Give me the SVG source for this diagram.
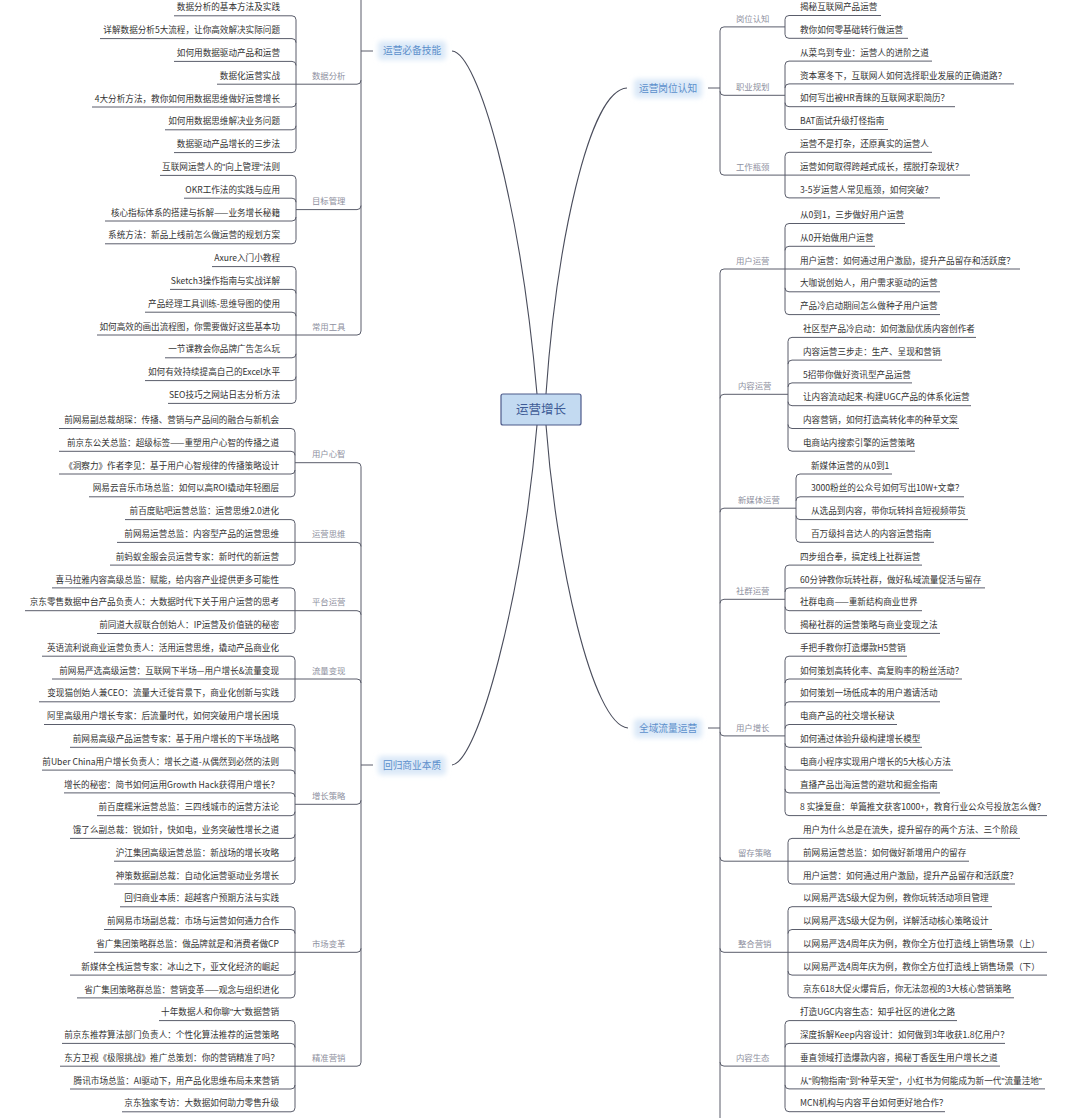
<svg xmlns="http://www.w3.org/2000/svg" width="1080" height="1118" viewBox="0 0 1080 1118">
<defs>
<filter id="glow" x="-20%" y="-50%" width="140%" height="200%"><feGaussianBlur stdDeviation="2.5"/></filter>
</defs>
<style>
text{font-family:"Noto Sans CJK SC","Noto Sans",sans-serif}
.q{font-family:"Liberation Sans",sans-serif}
.l{font-size:8.6px;fill:#333}
.le{text-anchor:end}
.s{font-size:8.4px;fill:#8e90a0}
.m{font-size:9.7px;fill:#5b8fcb}
.mg{fill:#dbe9f8;filter:url(#glow)}
.c{fill:none;stroke:#5a5d6b;stroke-width:1}
.cc{fill:none;stroke:#4a4d5c;stroke-width:1.1}
</style>
<rect width="1080" height="1118" fill="#fff"/>
<g id="connectors">
<path class="cc" d="M452 51C478 53 520 200 537 394"/>
<path class="cc" d="M627 88C588 90 556 250 546 394"/>
<path class="cc" d="M628 728C592 725 556 560 546 425"/>
<path class="cc" d="M452 765C478 762 522 600 537 425"/>
<path class="c" d="M361 0V331M361 51H373M361 466.7V1062.2M361 765H373M720 30.9V171.1M708 88H720M720 273V1118M708 728H720"/>
<path class="c" d="M174 15.8H292Q296 15.8 296 19.8M100 38.6H292Q296 38.6 296 42.6M174 61.4H292Q296 61.4 296 65.4M217 84.2H357Q361 84.2 361 80.2M92 107H292Q296 107 296 103M165 129.8H292Q296 129.8 296 125.8M174 152.6H292Q296 152.6 296 148.6M296 19.8V148.6"/>
<path class="c" d="M160 175.4H292Q296 175.4 296 179.4M184 198.2H292Q296 198.2 296 202.2M105 221H292Q296 221 296 217M105 243.8H292Q296 243.8 296 239.8M296 179.4V239.8M296 209.6H357Q361 209.6 361 205.6"/>
<path class="c" d="M212 266.6H292Q296 266.6 296 270.6M170 289.4H292Q296 289.4 296 293.4M145 312.2H292Q296 312.2 296 316.2M97 335H357Q361 335 361 331M165 357.8H292Q296 357.8 296 353.8M145 380.6H292Q296 380.6 296 376.6M168 403.4H292Q296 403.4 296 399.4M296 270.6V399.4"/>
<path class="c" d="M59 428.5H291Q295 428.5 295 432.5M59 451.3H291Q295 451.3 295 455.3M59 474H291Q295 474 295 470M89 496.8H291Q295 496.8 295 492.8M295 432.5V492.8M295 462.7H357Q361 462.7 361 466.7"/>
<path class="c" d="M125 519.6H291Q295 519.6 295 523.6M117 542.4H357Q361 542.4 361 546.4M110 565.1H291Q295 565.1 295 561.1M295 523.6V561.1"/>
<path class="c" d="M52 587.9H291Q295 587.9 295 591.9M25 610.7H357Q361 610.7 361 614.7M97 633.5H291Q295 633.5 295 629.5M295 591.9V629.5"/>
<path class="c" d="M42 656.2H291Q295 656.2 295 660.2M52 679H357Q361 679 361 683M39 701.8H291Q295 701.8 295 697.8M295 660.2V697.8"/>
<path class="c" d="M44 724.5H291Q295 724.5 295 728.5M70 747.3H291Q295 747.3 295 751.3M42 770.1H291Q295 770.1 295 774.1M64 792.9H291Q295 792.9 295 796.9M97 815.7H291Q295 815.7 295 811.7M70 838.4H291Q295 838.4 295 834.4M114 861.2H291Q295 861.2 295 857.2M114 884H291Q295 884 295 880M295 728.5V880M295 804.3H357Q361 804.3 361 800.3"/>
<path class="c" d="M120 906.8H291Q295 906.8 295 910.8M104 929.5H291Q295 929.5 295 933.5M94 952.3H357Q361 952.3 361 948.3M70 975.1H291Q295 975.1 295 971.1M77 997.9H291Q295 997.9 295 993.9M295 910.8V993.9"/>
<path class="c" d="M159 1020.6H291Q295 1020.6 295 1024.6M62 1043.4H291Q295 1043.4 295 1047.4M60 1066.2H357Q361 1066.2 361 1062.2M70 1089H291Q295 1089 295 1085M122 1111.8H291Q295 1111.8 295 1107.8M295 1024.6V1107.8"/>
<path class="c" d="M881 15.5H789Q785 15.5 785 19.5M908 38.3H789Q785 38.3 785 34.3M785 19.5V34.3M785 26.9H724Q720 26.9 720 30.9"/>
<path class="c" d="M932 61.1H789Q785 61.1 785 65.1M1014 83.9H789Q785 83.9 785 87.9M955 106.7H789Q785 106.7 785 102.7M888 129.5H789Q785 129.5 785 125.5M785 65.1V125.5M785 95.3H724Q720 95.3 720 91.3"/>
<path class="c" d="M932 152.3H789Q785 152.3 785 156.3M970 175.1H724Q720 175.1 720 171.1M940 197.9H789Q785 197.9 785 193.9M785 156.3V193.9"/>
<path class="c" d="M905 223.5H789Q785 223.5 785 227.5M875 246.3H789Q785 246.3 785 250.3M1020 269H724Q720 269 720 273M940 291.8H789Q785 291.8 785 287.8M940 314.6H789Q785 314.6 785 310.6M785 227.5V310.6"/>
<path class="c" d="M976 337.4H792Q788 337.4 788 341.4M942 360.1H792Q788 360.1 788 364.1M912 382.9H792Q788 382.9 788 386.9M971 405.7H792Q788 405.7 788 401.7M959 428.5H792Q788 428.5 788 424.5M915 451.2H792Q788 451.2 788 447.2M788 341.4V447.2M788 394.3H724Q720 394.3 720 398.3"/>
<path class="c" d="M892 474H800Q796 474 796 478M964 496.8H800Q796 496.8 796 500.8M968 519.6H800Q796 519.6 796 515.6M934 542.3H800Q796 542.3 796 538.3M796 478V538.3M796 508.2H724Q720 508.2 720 512.2"/>
<path class="c" d="M922 565.1H789Q785 565.1 785 569.1M985 587.9H789Q785 587.9 785 591.9M922 610.7H789Q785 610.7 785 606.7M940 633.4H789Q785 633.4 785 629.4M785 569.1V629.4M785 599.3H724Q720 599.3 720 603.3"/>
<path class="c" d="M907 656.2H789Q785 656.2 785 660.2M962 679H789Q785 679 785 683M940 701.8H789Q785 701.8 785 705.8M897 724.5H789Q785 724.5 785 728.5M922 747.3H789Q785 747.3 785 743.3M953 770.1H789Q785 770.1 785 766.1M940 792.9H789Q785 792.9 785 788.9M1047 815.6H789Q785 815.6 785 811.6M785 660.2V811.6M785 735.9H724Q720 735.9 720 731.9"/>
<path class="c" d="M1020 838.4H792Q788 838.4 788 842.4M969 861.2H724Q720 861.2 720 857.2M1015 884H792Q788 884 788 880M788 842.4V880"/>
<path class="c" d="M992 906.7H792Q788 906.7 788 910.7M992 929.5H792Q788 929.5 788 933.5M1047 952.3H724Q720 952.3 720 948.3M1047 975.1H792Q788 975.1 788 971.1M1014 997.8H792Q788 997.8 788 993.8M788 910.7V993.8"/>
<path class="c" d="M957 1020.6H789Q785 1020.6 785 1024.6M1005 1043.4H789Q785 1043.4 785 1047.4M1000 1066.1H724Q720 1066.1 720 1062.1M1045 1088.9H789Q785 1088.9 785 1084.9M945 1111.7H789Q785 1111.7 785 1107.7M785 1024.6V1107.7"/>
</g>
<g id="root"><rect x="501" y="394" width="80" height="31" rx="2" fill="#c3daf1" stroke="#4d5a8a" stroke-width="1.2"/><text x="541" y="414" text-anchor="middle" style="font-size:12.5px;fill:#3d5a96">运营增长</text></g>
<g id="m1"><rect class="mg" x="378" y="41" width="68" height="19" rx="4"/><text class="m" x="383" y="54">运营必备技能</text></g>
<g id="m2"><rect class="mg" x="634" y="79" width="68" height="19" rx="4"/><text class="m" x="639" y="91.5">运营岗位认知</text></g>
<g id="m3"><rect class="mg" x="634" y="719" width="68" height="19" rx="4"/><text class="m" x="639" y="731.5">全域流量运营</text></g>
<g id="m4"><rect class="mg" x="378" y="756" width="68" height="19" rx="4"/><text class="m" x="383" y="768.5">回归商业本质</text></g>
<g id="s1"><text class="s" x="312" y="78.9">数据分析</text></g>
<g id="s2"><text class="s" x="312" y="204.2">目标管理</text></g>
<g id="s3"><text class="s" x="312" y="329.6">常用工具</text></g>
<g id="s4"><text class="s" x="312" y="457.3">用户心智</text></g>
<g id="s5"><text class="s" x="312" y="537">运营思维</text></g>
<g id="s6"><text class="s" x="312" y="605.3">平台运营</text></g>
<g id="s7"><text class="s" x="312" y="673.6">流量变现</text></g>
<g id="s8"><text class="s" x="312" y="798.9">增长策略</text></g>
<g id="s9"><text class="s" x="312" y="946.9">市场变革</text></g>
<g id="s10"><text class="s" x="312" y="1060.8">精准营销</text></g>
<g id="s11"><text class="s" x="736" y="21.5">岗位认知</text></g>
<g id="s12"><text class="s" x="736" y="89.9">职业规划</text></g>
<g id="s13"><text class="s" x="736" y="169.7">工作瓶颈</text></g>
<g id="s14"><text class="s" x="736" y="263.6">用户运营</text></g>
<g id="s15"><text class="s" x="738" y="388.9">内容运营</text></g>
<g id="s16"><text class="s" x="738" y="502.8">新媒体运营</text></g>
<g id="s17"><text class="s" x="736" y="593.9">社群运营</text></g>
<g id="s18"><text class="s" x="736" y="730.5">用户增长</text></g>
<g id="s19"><text class="s" x="738" y="855.8">留存策略</text></g>
<g id="s20"><text class="s" x="738" y="946.9">整合营销</text></g>
<g id="s21"><text class="s" x="736" y="1060.7">内容生态</text></g>
<g id="a0"><text class="l le" x="280" y="10.4">数据分析的基本方法及实践</text></g>
<g id="a1"><text class="l le" x="280" y="33.2">详解数据分析5大流程，让你高效解决实际问题</text></g>
<g id="a2"><text class="l le" x="280" y="56">如何用数据驱动产品和运营</text></g>
<g id="a3"><text class="l le" x="280" y="78.8">数据化运营实战</text></g>
<g id="a4"><text class="l le" x="280" y="101.6">4大分析方法，教你如何用数据思维做好运营增长</text></g>
<g id="a5"><text class="l le" x="280" y="124.4">如何用数据思维解决业务问题</text></g>
<g id="a6"><text class="l le" x="280" y="147.2">数据驱动产品增长的三步法</text></g>
<g id="a7"><text class="l le" x="280" y="170">互联网运营人的<tspan class="q">"</tspan>向上管理<tspan class="q">"</tspan>法则</text></g>
<g id="a8"><text class="l le" x="280" y="192.8">OKR工作法的实践与应用</text></g>
<g id="a9"><text class="l le" x="280" y="215.6">核心指标体系的搭建与拆解——业务增长秘籍</text></g>
<g id="a10"><text class="l le" x="280" y="238.4">系统方法：新品上线前怎么做运营的规划方案</text></g>
<g id="a11"><text class="l le" x="280" y="261.2">Axure入门小教程</text></g>
<g id="a12"><text class="l le" x="280" y="284">Sketch3操作指南与实战详解</text></g>
<g id="a13"><text class="l le" x="280" y="306.8">产品经理工具训练-思维导图的使用</text></g>
<g id="a14"><text class="l le" x="280" y="329.6">如何高效的画出流程图，你需要做好这些基本功</text></g>
<g id="a15"><text class="l le" x="280" y="352.4">一节课教会你品牌广告怎么玩</text></g>
<g id="a16"><text class="l le" x="280" y="375.2">如何有效持续提高自己的Excel水平</text></g>
<g id="a17"><text class="l le" x="280" y="398">SEO技巧之网站日志分析方法</text></g>
<g id="b0"><text class="l le" x="279" y="423.1">前网易副总裁胡琛：传播、营销与产品间的融合与新机会</text></g>
<g id="b1"><text class="l le" x="279" y="445.9">前京东公关总监：超级标签——重塑用户心智的传播之道</text></g>
<g id="b2"><text class="l le" x="279" y="468.6">《洞察力》作者李见：基于用户心智规律的传播策略设计</text></g>
<g id="b3"><text class="l le" x="279" y="491.4">网易云音乐市场总监：如何以高ROI撬动年轻圈层</text></g>
<g id="b4"><text class="l le" x="279" y="514.2">前百度贴吧运营总监：运营思维2.0进化</text></g>
<g id="b5"><text class="l le" x="279" y="537">前网易运营总监：内容型产品的运营思维</text></g>
<g id="b6"><text class="l le" x="279" y="559.7">前蚂蚁金服会员运营专家：新时代的新运营</text></g>
<g id="b7"><text class="l le" x="279" y="582.5">喜马拉雅内容高级总监：赋能，给内容产业提供更多可能性</text></g>
<g id="b8"><text class="l le" x="279" y="605.3">京东零售数据中台产品负责人：大数据时代下关于用户运营的思考</text></g>
<g id="b9"><text class="l le" x="279" y="628.1">前同道大叔联合创始人：IP运营及价值链的秘密</text></g>
<g id="b10"><text class="l le" x="279" y="650.8">英语流利说商业运营负责人：活用运营思维，撬动产品商业化</text></g>
<g id="b11"><text class="l le" x="279" y="673.6">前网易严选高级运营：互联网下半场—用户增长&amp;流量变现</text></g>
<g id="b12"><text class="l le" x="279" y="696.4">变现猫创始人兼CEO：流量大迁徙背景下，商业化创新与实践</text></g>
<g id="b13"><text class="l le" x="279" y="719.1">阿里高级用户增长专家：后流量时代，如何突破用户增长困境</text></g>
<g id="b14"><text class="l le" x="279" y="741.9">前网易高级产品运营专家：基于用户增长的下半场战略</text></g>
<g id="b15"><text class="l le" x="279" y="764.7">前Uber China用户增长负责人：增长之道-从偶然到必然的法则</text></g>
<g id="b16"><text class="l le" x="279" y="787.5">增长的秘密：简书如何运用Growth Hack获得用户增长？</text></g>
<g id="b17"><text class="l le" x="279" y="810.3">前百度糯米运营总监：三四线城市的运营方法论</text></g>
<g id="b18"><text class="l le" x="279" y="833">饿了么副总裁：锐如针，快如电，业务突破性增长之道</text></g>
<g id="b19"><text class="l le" x="279" y="855.8">沪江集团高级运营总监：新战场的增长攻略</text></g>
<g id="b20"><text class="l le" x="279" y="878.6">神策数据副总裁：自动化运营驱动业务增长</text></g>
<g id="b21"><text class="l le" x="279" y="901.4">回归商业本质：超越客户预期方法与实践</text></g>
<g id="b22"><text class="l le" x="279" y="924.1">前网易市场副总裁：市场与运营如何通力合作</text></g>
<g id="b23"><text class="l le" x="279" y="946.9">省广集团策略群总监：做品牌就是和消费者做CP</text></g>
<g id="b24"><text class="l le" x="279" y="969.7">新媒体全栈运营专家：冰山之下，亚文化经济的崛起</text></g>
<g id="b25"><text class="l le" x="279" y="992.5">省广集团策略群总监：营销变革——观念与组织进化</text></g>
<g id="b26"><text class="l le" x="279" y="1015.2">十年数据人和你聊<tspan class="q">"</tspan>大<tspan class="q">"</tspan>数据营销</text></g>
<g id="b27"><text class="l le" x="279" y="1038">前京东推荐算法部门负责人：个性化算法推荐的运营策略</text></g>
<g id="b28"><text class="l le" x="279" y="1060.8">东方卫视《极限挑战》推广总策划：你的营销精准了吗？</text></g>
<g id="b29"><text class="l le" x="279" y="1083.6">腾讯市场总监：AI驱动下，用产品化思维布局未来营销</text></g>
<g id="b30"><text class="l le" x="279" y="1106.4">京东独家专访：大数据如何助力零售升级</text></g>
<g id="c0"><text class="l" x="800" y="10.1">揭秘互联网产品运营</text></g>
<g id="c1"><text class="l" x="800" y="32.9">教你如何零基础转行做运营</text></g>
<g id="c2"><text class="l" x="800" y="55.7">从菜鸟到专业：运营人的进阶之道</text></g>
<g id="c3"><text class="l" x="800" y="78.5">资本寒冬下，互联网人如何选择职业发展的正确道路？</text></g>
<g id="c4"><text class="l" x="800" y="101.3">如何写出被HR青睐的互联网求职简历？</text></g>
<g id="c5"><text class="l" x="800" y="124.1">BAT面试升级打怪指南</text></g>
<g id="c6"><text class="l" x="800" y="146.9">运营不是打杂，还原真实的运营人</text></g>
<g id="c7"><text class="l" x="800" y="169.7">运营如何取得跨越式成长，摆脱打杂现状？</text></g>
<g id="c8"><text class="l" x="800" y="192.5">3-5岁运营人常见瓶颈，如何突破？</text></g>
<g id="d0"><text class="l" x="800" y="218.1">从0到1，三步做好用户运营</text></g>
<g id="d1"><text class="l" x="800" y="240.9">从0开始做用户运营</text></g>
<g id="d2"><text class="l" x="800" y="263.6">用户运营：如何通过用户激励，提升产品留存和活跃度？</text></g>
<g id="d3"><text class="l" x="800" y="286.4">大咖说创始人，用户需求驱动的运营</text></g>
<g id="d4"><text class="l" x="800" y="309.2">产品冷启动期间怎么做种子用户运营</text></g>
<g id="d5"><text class="l" x="803" y="332">社区型产品冷启动：如何激励优质内容创作者</text></g>
<g id="d6"><text class="l" x="803" y="354.7">内容运营三步走：生产、呈现和营销</text></g>
<g id="d7"><text class="l" x="803" y="377.5">5招带你做好资讯型产品运营</text></g>
<g id="d8"><text class="l" x="803" y="400.3">让内容流动起来-构建UGC产品的体系化运营</text></g>
<g id="d9"><text class="l" x="803" y="423.1">内容营销，如何打造高转化率的种草文案</text></g>
<g id="d10"><text class="l" x="803" y="445.8">电商站内搜索引擎的运营策略</text></g>
<g id="d11"><text class="l" x="811" y="468.6">新媒体运营的从0到1</text></g>
<g id="d12"><text class="l" x="811" y="491.4">3000粉丝的公众号如何写出10W+文章？</text></g>
<g id="d13"><text class="l" x="811" y="514.2">从选品到内容，带你玩转抖音短视频带货</text></g>
<g id="d14"><text class="l" x="811" y="536.9">百万级抖音达人的内容运营指南</text></g>
<g id="d15"><text class="l" x="800" y="559.7">四步组合拳，搞定线上社群运营</text></g>
<g id="d16"><text class="l" x="800" y="582.5">60分钟教你玩转社群，做好私域流量促活与留存</text></g>
<g id="d17"><text class="l" x="800" y="605.3">社群电商——重新结构商业世界</text></g>
<g id="d18"><text class="l" x="800" y="628">揭秘社群的运营策略与商业变现之法</text></g>
<g id="d19"><text class="l" x="800" y="650.8">手把手教你打造爆款H5营销</text></g>
<g id="d20"><text class="l" x="800" y="673.6">如何策划高转化率、高复购率的粉丝活动？</text></g>
<g id="d21"><text class="l" x="800" y="696.4">如何策划一场低成本的用户邀请活动</text></g>
<g id="d22"><text class="l" x="800" y="719.1">电商产品的社交增长秘诀</text></g>
<g id="d23"><text class="l" x="800" y="741.9">如何通过体验升级构建增长模型</text></g>
<g id="d24"><text class="l" x="800" y="764.7">电商小程序实现用户增长的5大核心方法</text></g>
<g id="d25"><text class="l" x="800" y="787.5">直播产品出海运营的避坑和掘金指南</text></g>
<g id="d26"><text class="l" x="800" y="810.2">8 实操复盘：单篇推文获客1000+，教育行业公众号投放怎么做？</text></g>
<g id="d27"><text class="l" x="803" y="833">用户为什么总是在流失，提升留存的两个方法、三个阶段</text></g>
<g id="d28"><text class="l" x="803" y="855.8">前网易运营总监：如何做好新增用户的留存</text></g>
<g id="d29"><text class="l" x="803" y="878.6">用户运营：如何通过用户激励，提升产品留存和活跃度？</text></g>
<g id="d30"><text class="l" x="803" y="901.3">以网易严选S级大促为例，教你玩转活动项目管理</text></g>
<g id="d31"><text class="l" x="803" y="924.1">以网易严选S级大促为例，详解活动核心策略设计</text></g>
<g id="d32"><text class="l" x="803" y="946.9">以网易严选4周年庆为例，教你全方位打造线上销售场景（上）</text></g>
<g id="d33"><text class="l" x="803" y="969.7">以网易严选4周年庆为例，教你全方位打造线上销售场景（下）</text></g>
<g id="d34"><text class="l" x="803" y="992.4">京东618大促火爆背后，你无法忽视的3大核心营销策略</text></g>
<g id="d35"><text class="l" x="800" y="1015.2">打造UGC内容生态：知乎社区的进化之路</text></g>
<g id="d36"><text class="l" x="800" y="1038">深度拆解Keep内容设计：如何做到3年收获1.8亿用户？</text></g>
<g id="d37"><text class="l" x="800" y="1060.7">垂直领域打造爆款内容，揭秘丁香医生用户增长之道</text></g>
<g id="d38"><text class="l" x="800" y="1083.5">从<tspan class="q">"</tspan>购物指南<tspan class="q">"</tspan>到<tspan class="q">"</tspan>种草天堂<tspan class="q">"</tspan>，小红书为何能成为新一代<tspan class="q">"</tspan>流量洼地<tspan class="q">"</tspan></text></g>
<g id="d39"><text class="l" x="800" y="1106.3">MCN机构与内容平台如何更好地合作？</text></g>
</svg>
